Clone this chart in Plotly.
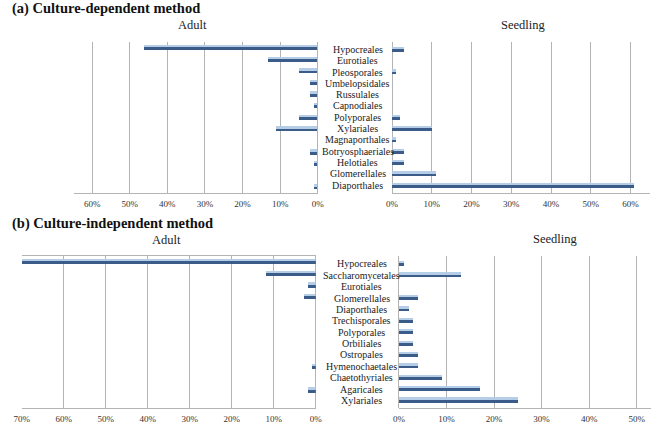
import plotly.graph_objects as go

# (a) culture-dependent
cats_a = ["Hypocreales", "Eurotiales", "Pleosporales", "Umbelopsidales", "Russulales",
          "Capnodiales", "Polyporales", "Xylariales", "Magnaporthales",
          "Botryosphaeriales", "Helotiales", "Glomerellales", "Diaporthales"]
adult_a = [0.46, 0.13, 0.05, 0.02, 0.02, 0.01, 0.05, 0.11, 0.0, 0.02, 0.01, 0.0, 0.01]
seedling_a = [0.03, 0.0, 0.01, 0.0, 0.0, 0.0, 0.02, 0.10, 0.01, 0.03, 0.03, 0.11, 0.61]

# (b) culture-independent
cats_b = ["Hypocreales", "Saccharomycetales", "Eurotiales", "Glomerellales", "Diaporthales",
          "Trechisporales", "Polyporales", "Orbiliales", "Ostropales", "Hymenochaetales",
          "Chaetothyriales", "Agaricales", "Xylariales"]
adult_b = [0.70, 0.12, 0.02, 0.03, 0.0, 0.0, 0.0, 0.0, 0.0, 0.01, 0.0, 0.02, 0.0]
seedling_b = [0.01, 0.13, 0.0, 0.04, 0.02, 0.03, 0.03, 0.03, 0.04, 0.04, 0.09, 0.17, 0.25]

W, H = 658, 424
SERIF = "Liberation Serif"
DARK = "#3b5b88"
LIGHT = "#b6cde8"
GRID = "#b4b4b4"


def px_x(a, b):
    return [a / W, b / W]


def px_y(top, bottom):
    return [1 - bottom / H, 1 - top / H]


fig = go.Figure()

panels = [
    (adult_a, cats_a, ""),
    (seedling_a, cats_a, "2"),
    (adult_b, cats_b, "3"),
    (seedling_b, cats_b, "4"),
]

for vals, cats, s in panels:
    fig.add_trace(go.Bar(x=vals, y=cats, orientation="h", width=0.42, offset=-0.21,
                         marker=dict(color=DARK, line=dict(width=0)),
                         xaxis="x" + s, yaxis="y" + s, showlegend=False))
    fig.add_trace(go.Bar(x=vals, y=cats, orientation="h", width=0.16, offset=-0.19,
                         marker=dict(color=LIGHT, line=dict(width=0)),
                         xaxis="x" + s, yaxis="y" + s, showlegend=False))


def xax(domain, rng, rev, mirror=False, standoff=3):
    return dict(domain=domain, range=rng[::-1] if rev else rng, tickformat=".0%", dtick=0.1,
                tick0=0, showgrid=True, gridcolor=GRID, gridwidth=1, zeroline=True,
                zerolinecolor=GRID, zerolinewidth=1, showline=True, linecolor=GRID,
                mirror=mirror, ticks="", ticklabelstandoff=standoff,
                tickfont=dict(family=SERIF, size=9, color="#333333"), fixedrange=True)


def yax(domain, cats, anchor):
    return dict(domain=domain, type="category", categoryorder="array", categoryarray=cats,
                autorange="reversed", showticklabels=False, showgrid=False, zeroline=False,
                showline=False, anchor=anchor, fixedrange=True)


ya = px_y(42, 193)
yb = px_y(257, 409)

fig.update_layout(
    width=W, height=H, margin=dict(l=0, r=0, t=0, b=0),
    paper_bgcolor="white", plot_bgcolor="white",
    barmode="overlay", bargap=0, hovermode=False,
    xaxis=dict(xax(px_x(68, 317), [0, 0.647], True), anchor="y"),
    yaxis=yax(ya, cats_a, "x"),
    xaxis2=dict(xax(px_x(393, 657), [0, 0.649], False), anchor="y2"),
    yaxis2=yax(ya, cats_a, "x2"),
    xaxis3=dict(xax(px_x(14, 315), [0, 0.70], True, mirror=True, standoff=2), anchor="y3"),
    yaxis3=yax(yb, cats_b, "x3"),
    xaxis4=dict(xax(px_x(400, 658), [0, 0.53], False, standoff=2), anchor="y4"),
    yaxis4=yax(yb, cats_b, "x4"),
)

# category labels centred between the two panels
for c in cats_a:
    fig.add_annotation(x=358 / W, xref="paper", y=c, yref="y2", text=c, showarrow=False,
                       xanchor="center", font=dict(family=SERIF, size=10, color="#222"))
for c in cats_b:
    fig.add_annotation(x=362 / W, xref="paper", y=c, yref="y4", text=c, showarrow=False,
                       xanchor="center", font=dict(family=SERIF, size=10, color="#222"))

texts = [
    ("<b>(a) Culture-dependent method</b>", 2, 9, "left", 14.5, "#111"),
    ("Adult", 189, 25, "center", 12.5, "#222"),
    ("Seedling", 527, 25, "center", 12.5, "#222"),
    ("<b>(b) Culture-independent method</b>", 2, 224, "left", 14.5, "#111"),
    ("Adult", 162, 241, "center", 12.5, "#222"),
    ("Seedling", 560, 240, "center", 12.5, "#222"),
]
for t, x, y, anchor, size, col in texts:
    fig.add_annotation(x=x / W, y=1 - y / H, xref="paper", yref="paper", text=t,
                       showarrow=False, xanchor=anchor, yanchor="middle",
                       font=dict(family=SERIF, size=size, color=col))

# the page's default body margin pushes the figure off the window
fig.write_html("out.html", config={"displayModeBar": False},
               post_script="document.body.style.margin='0';")
